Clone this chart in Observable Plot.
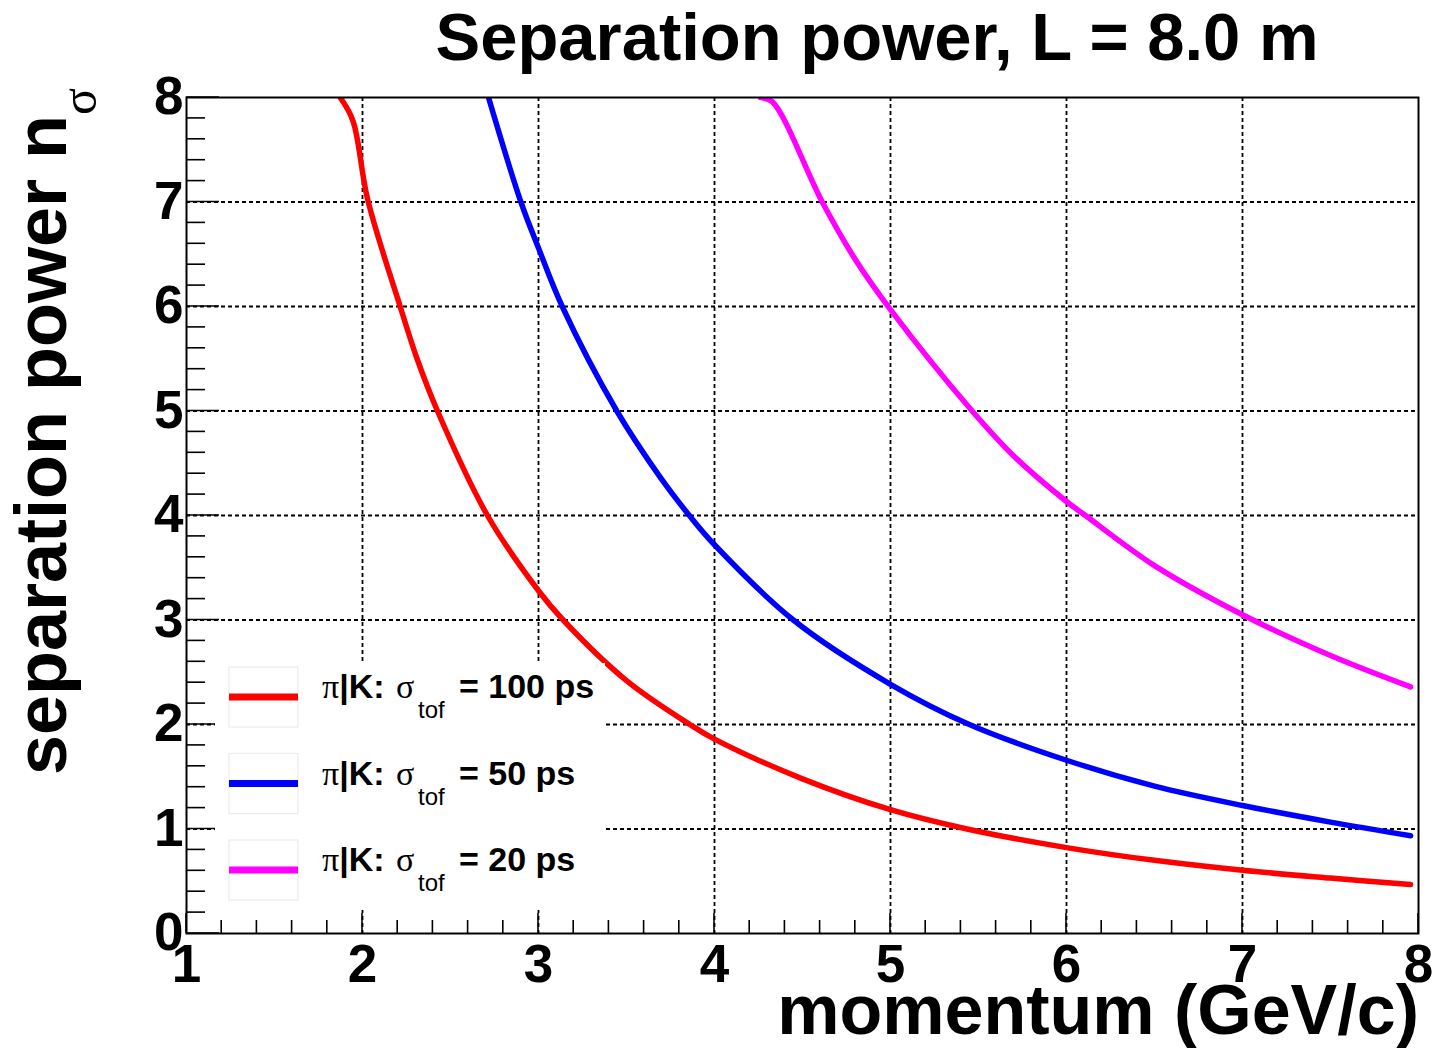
<!DOCTYPE html>
<html>
<head>
<meta charset="utf-8">
<script src="https://cdn.jsdelivr.net/npm/d3@7"></script>
<script src="https://cdn.jsdelivr.net/npm/@observablehq/plot@0.6"></script>
<style>
  html, body { margin: 0; padding: 0; background: #ffffff; }
  #wrap { position: relative; width: 1437px; height: 1048px; overflow: hidden; font-family: "Liberation Sans", Arial, sans-serif; }
  #title { position: absolute; z-index: 2; top: 3px; left: 877px; transform: translateX(-50%); font-weight: bold; font-size: 67px; line-height: 67px; white-space: nowrap; color: #000; }
  #chart { position: absolute; z-index: 1; top: 60px; left: 0; }
</style>
</head>
<body>
<div id="wrap">
  <div id="title">Separation power, L = 8.0 m</div>
  <div id="chart"></div>
</div>
<script>
// ---- data ----
const seriesLabels = ["100 ps", "50 ps", "20 ps"];
const seriesColors = ["#ff0000", "#0000ff", "#ff00ff"];

const p100 = [1.873, 1.945, 2.03, 2.214, 2.31, 2.426, 2.71, 3.0, 3.14, 3.5, 3.86, 4.0, 4.5, 5.0, 5.435, 6.0, 6.5, 7.0, 7.5, 7.955];
const n100 = [8.0, 7.78, 7.02, 6.0, 5.5, 5.0, 4.0, 3.28, 3.0, 2.42, 2.0, 1.86, 1.48, 1.185, 1.0, 0.822, 0.70, 0.605, 0.53, 0.468];

const p50 = [2.716, 2.9, 3.0, 3.135, 3.445, 3.69, 3.862, 4.0, 4.448, 5.0, 5.448, 6.0, 6.5, 7.0, 7.5, 7.955];
const n50 = [8.0, 7.0, 6.56, 6.0, 5.0, 4.37, 3.99, 3.72, 3.0, 2.385, 2.0, 1.658, 1.41, 1.225, 1.066, 0.936];

const p20 = [4.261, 4.328, 4.612, 4.8, 5.0, 5.464, 5.7, 6.0, 6.108, 6.5, 7.0, 7.5, 7.955];
const n20 = [8.0, 7.96, 7.0, 6.45, 5.97, 5.0, 4.57, 4.134, 4.0, 3.52, 3.05, 2.66, 2.36];

const xTicks = [1, 2, 3, 4, 5, 6, 7, 8];
const yTicks = [0, 1, 2, 3, 4, 5, 6, 7, 8];
const xLabel = "momentum (GeV/c)";
const yLabel = "separation power n";
const yLabelSub = "σ";

// ---- build table ----
const table = [];
[[p100, n100], [p50, n50], [p20, n20]].forEach(([ps, ns], i) => {
  ps.forEach((p, j) => table.push({series: seriesLabels[i], p, n: ns[j]}));
});

const gridStyle = {stroke: "black", strokeOpacity: 1, strokeWidth: 1.8, strokeDasharray: "4,3"};

const plot = Plot.plot({
  width: 1437,
  height: 988,
  marginLeft: 186,
  marginRight: 19,
  marginTop: 37,
  marginBottom: 115,
  style: {fontFamily: "'Liberation Sans', Arial, sans-serif", background: "transparent", color: "black"},
  x: {domain: [1, 8]},
  y: {domain: [0, 8]},
  color: {domain: seriesLabels, range: seriesColors},
  marks: [
    Plot.gridX(xTicks.slice(1, -1), gridStyle),
    Plot.gridY(yTicks.slice(1, -1), gridStyle),
    Plot.line(table, {x: "p", y: "n", z: "series", stroke: "series", strokeWidth: 5.5, curve: "catmull-rom", clip: true}),
    Plot.frame({stroke: "black", strokeWidth: 2}),
    Plot.axisX(xTicks, {tickSize: 0, tickPadding: 11, fontSize: 53, fontWeight: "bold", label: null, tickFormat: d => String(d)}),
    Plot.axisY(yTicks, {tickSize: 0, tickPadding: 3, fontSize: 53, fontWeight: "bold", label: null, tickFormat: d => String(d)})
  ]
});

document.getElementById("chart").appendChild(plot);

// ---- inward ticks drawn with the plot's own scales ----
const svg = d3.select(plot);
const xs = plot.scale("x"), ys = plot.scale("y");
const [fx0, fx1] = xs.range;
const [fy0, fy1] = ys.range; // fy0 = bottom
const tg = svg.append("g").attr("stroke", "black").attr("stroke-width", 1.6);
for (let k = 0; k <= 35; k++) {
  const v = 1 + k * 0.2;
  const major = k % 5 === 0;
  const X = xs.apply(v);
  tg.append("line").attr("x1", X).attr("x2", X).attr("y1", fy0).attr("y2", fy0 - (major ? 20 : 13));
}
for (let k = 0; k <= 40; k++) {
  const v = k * 0.2;
  const major = k % 5 === 0;
  const Y = ys.apply(v);
  tg.append("line").attr("x1", fx0).attr("x2", fx0 + (major ? 33 : 19)).attr("y1", Y).attr("y2", Y);
}

// ---- axis titles ----
svg.append("text")
  .attr("x", fx1 + 1).attr("y", 974)
  .attr("text-anchor", "end")
  .attr("font-size", 70).attr("font-weight", "bold").attr("fill", "black")
  .text(xLabel);

const yt = svg.append("text")
  .attr("transform", `translate(66, 28) rotate(-90)`)
  .attr("text-anchor", "end")
  .attr("font-size", 72).attr("font-weight", "bold").attr("fill", "black");
yt.append("tspan").text(yLabel);
yt.append("tspan").attr("dy", 30).attr("font-family", "'Liberation Serif', serif").attr("font-weight", "normal").attr("font-size", 50).text(yLabelSub);

// ---- legend ----
const lg = svg.append("g");
lg.append("rect").attr("x", 215).attr("y", 603).attr("width", 390).attr("height", 247).attr("fill", "white");
seriesLabels.forEach((lab, i) => {
  const by = 607 + i * 86.5;
  lg.append("rect").attr("x", 229).attr("y", by).attr("width", 69).attr("height", 60)
    .attr("fill", "none").attr("stroke", "#ececec").attr("stroke-width", 1.2);
  lg.append("line").attr("x1", 229).attr("x2", 298).attr("y1", by + 30).attr("y2", by + 30)
    .attr("stroke", seriesColors[i]).attr("stroke-width", 7);
  const t = lg.append("text").attr("x", 322).attr("y", by + 31).attr("text-anchor", "start")
    .attr("font-size", 34).attr("fill", "black");
  t.append("tspan").attr("font-family", "'Liberation Serif', serif").text("π");
  t.append("tspan").attr("font-weight", "bold").text("|K:");
  t.append("tspan").attr("x", 396).attr("font-family", "'Liberation Serif', serif").text("σ");
  t.append("tspan").attr("x", 418).attr("dy", 20).attr("font-size", 24).text("tof");
  t.append("tspan").attr("x", 459).attr("dy", -20).attr("font-weight", "bold").text("= " + lab);
});
</script>
</body>
</html>
